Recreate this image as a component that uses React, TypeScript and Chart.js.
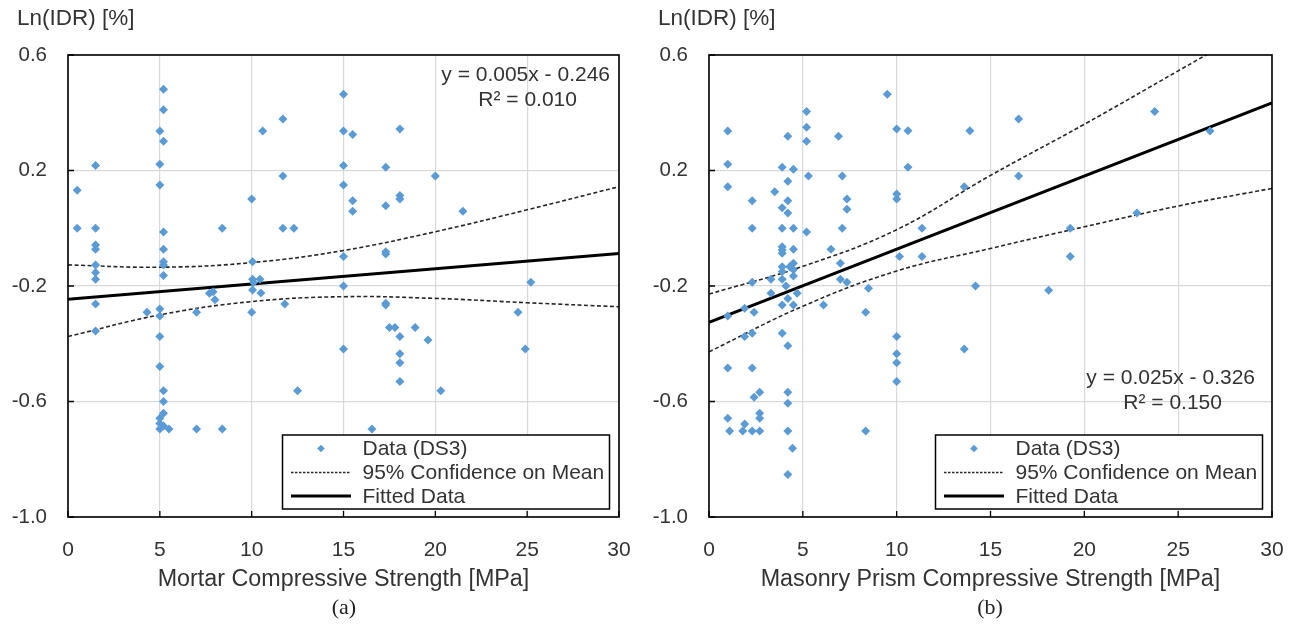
import React, { useEffect, useRef } from "react";
import { Chart, registerables } from "chart.js";

Chart.register(...registerables);

// ---------- Data: (a) Mortar compressive strength ----------
const mortarX = [
  0.5, 0.5,
  1.5, 1.5, 1.5, 1.5, 1.5, 1.5, 1.5, 1.5, 1.5,
  5.2, 5.2, 5.0, 5.2, 5.0, 5.0, 5.2, 5.2, 5.2, 5.2, 5.2,
  5.0, 5.0, 5.0, 5.0, 5.2, 5.2, 5.2, 5.0, 5.0, 5.0, 5.2, 5.5,
  4.3, 7.0, 7.0, 8.4, 8.0, 7.7, 7.9, 8.4,
  10.0, 10.6, 11.7, 11.7, 11.7, 12.3, 10.05, 10.05, 10.45, 10.1, 10.05, 10.5, 10.0, 11.8, 12.5,
  15.0, 15.0, 15.5, 15.0, 15.0, 15.5, 15.5, 15.0, 15.0, 15.0,
  16.55, 18.07, 17.3, 20.0, 17.3, 18.07, 18.07, 21.5, 17.3, 17.3, 25.2,
  17.3, 17.3, 17.5, 17.8, 18.9, 18.07, 19.6, 18.07, 18.07, 18.07, 24.5, 24.9, 20.3,
];
const mortarY = [
  0.132, 0.0,
  0.217, 0.0, -0.058, -0.073, -0.127, -0.153, -0.177, -0.262, -0.356,
  0.481, 0.41, 0.337, 0.301, 0.222, 0.15, -0.013, -0.073, -0.116, -0.127, -0.164,
  -0.28, -0.304, -0.375, -0.479, -0.563, -0.6, -0.641, -0.658, -0.676, -0.695, -0.685, -0.695,
  -0.291, -0.291, -0.695, -0.695, -0.248, -0.225, -0.22, 0.0,
  0.101, 0.337, 0.378, 0.181, 0.0, 0.0, -0.116, -0.177, -0.177, -0.188, -0.214, -0.224, -0.291, -0.262, -0.563,
  0.464, 0.337, 0.325, 0.217, 0.15, 0.095, 0.059, -0.098, -0.2, -0.418,
  -0.695, 0.344, 0.211, 0.181, 0.078, 0.113, 0.101, 0.059, -0.081, -0.089, -0.187,
  -0.26, -0.266, -0.344, -0.344, -0.344, -0.375, -0.387, -0.435, -0.466, -0.531, -0.291, -0.418, -0.563,
];

// ---------- Data: (b) Masonry prism compressive strength ----------
const prismX = [
  1.0, 1.0, 1.0, 9.5, 5.2, 5.2, 5.2, 4.2, 6.9, 10.0, 10.6, 13.9, 10.6, 3.9, 4.5, 5.3, 7.1, 4.2,
  13.6, 3.5, 2.3, 4.2, 7.35, 10.0, 10.0, 3.9, 4.2, 7.35, 2.3, 3.9, 4.5, 7.1, 11.35, 5.2,
  3.9, 3.9, 3.9, 4.5, 6.5, 7.0, 10.15, 11.35, 3.9, 4.5, 4.3, 3.9, 4.5, 4.5, 2.3, 3.3, 3.9,
  4.1, 7.0, 7.35, 8.5, 14.2, 3.3, 4.2, 3.9, 4.5, 4.7, 6.1, 8.35, 1.0, 1.9, 2.4, 1.9, 2.3,
  3.9, 4.2, 1.0, 2.3, 2.4, 2.7, 4.2, 4.2, 10.0, 10.0, 10.0, 10.0, 13.6, 1.0, 1.1, 1.9, 1.8,
  2.3, 2.7, 2.7, 2.7, 4.2, 4.45, 4.2, 8.35, 16.5, 23.75, 26.7, 16.5, 22.8, 19.25, 19.25, 18.1,
];
const prismY = [
  0.337, 0.222, 0.144, 0.464, 0.404, 0.35, 0.301, 0.319, 0.319, 0.344, 0.338, 0.338, 0.211, 0.211, 0.204, 0.181, 0.181, 0.163,
  0.144, 0.126, 0.095, 0.095, 0.101, 0.119, 0.101, 0.071, 0.053, 0.066, 0.0, 0.0, 0.0, 0.0, 0.0, -0.013,
  -0.064, -0.075, -0.087, -0.073, -0.073, -0.121, -0.098, -0.098, -0.133, -0.121, -0.133, -0.15, -0.144, -0.165, -0.187, -0.177, -0.177,
  -0.2, -0.177, -0.187, -0.208, -0.2, -0.225, -0.243, -0.266, -0.266, -0.225, -0.266, -0.291, -0.304, -0.277, -0.291, -0.375, -0.364,
  -0.364, -0.407, -0.484, -0.484, -0.585, -0.568, -0.568, -0.606, -0.375, -0.435, -0.466, -0.531, -0.418, -0.658, -0.702, -0.678, -0.702,
  -0.702, -0.702, -0.641, -0.658, -0.702, -0.762, -0.853, -0.702, 0.378, 0.404, 0.337, 0.181, 0.053, 0.0, -0.098, -0.215,
];

// ---------- Confidence bands and fitted lines ----------
const bandX = [0, 5, 10, 15, 20, 25, 30];
const mortarUpper = [-0.127, -0.135, -0.119, -0.077, -0.012, 0.064, 0.144];
const mortarLower = [-0.375, -0.3, -0.254, -0.237, -0.243, -0.258, -0.272];
const prismUpper = [-0.228, -0.132, -0.005, 0.183, 0.36, 0.545, 0.73];
const prismLower = [-0.428, -0.27, -0.148, -0.07, 0.005, 0.077, 0.138];

const fitX = [0, 30];
const mortarFit = [-0.246, -0.087];
const prismFit = [-0.326, 0.434];

const xTickValues = [0, 5, 10, 15, 20, 25, 30];
const yTickValues = [-1.0, -0.6, -0.2, 0.2, 0.6];

const yTitle = "Ln(IDR) [%]";
const legendLabels = ["Data (DS3)", "95% Confidence on Mean", "Fitted Data"];

const FONT = '"Liberation Sans", Arial, sans-serif';
const TEXT = "#333333";
const BLUE = "#5B9BD5";
const DASH = [4, 2.5];

const toPts = (xs: number[], ys: number[]) => xs.map((x, i) => ({ x, y: ys[i] }));

const decorPlugin = {
  id: "decor",
  afterDraw(chart: any, _args: any, opts: any) {
    const { ctx, chartArea: a, scales } = chart;
    ctx.save();
    // y-axis title (horizontal, above the axis)
    ctx.font = `22.5px ${FONT}`;
    ctx.fillStyle = TEXT;
    ctx.textAlign = "left";
    ctx.textBaseline = "middle";
    ctx.fillText(yTitle, a.left - 51, 19);

    // inner tick marks
    ctx.strokeStyle = "#000";
    ctx.lineWidth = 1.3;
    ctx.beginPath();
    xTickValues.forEach((v) => {
      const p = scales.x.getPixelForValue(v);
      ctx.moveTo(p, a.bottom);
      ctx.lineTo(p, a.bottom - 6);
    });
    yTickValues.forEach((v) => {
      const p = scales.y.getPixelForValue(v);
      ctx.moveTo(a.left, p);
      ctx.lineTo(a.left + 6, p);
    });
    ctx.stroke();
    // frame
    ctx.lineWidth = 1.6;
    ctx.strokeRect(a.left, a.top, a.right - a.left, a.bottom - a.top);

    // equation
    ctx.font = `21px ${FONT}`;
    ctx.fillStyle = TEXT;
    ctx.textBaseline = "middle";
    ctx.textAlign = "right";
    const eqRight = a.right - opts.eqInset;
    const y1 = opts.eqFromBottom ? a.bottom - opts.eqY : a.top + opts.eqY;
    ctx.fillText(opts.eq1, eqRight, y1);
    const w1 = ctx.measureText(opts.eq1).width;
    ctx.textAlign = "center";
    ctx.fillText(opts.eq2, eqRight - w1 / 2 + 2, y1 + 25);

    // legend
    const bw = 327;
    const bh = 74;
    const bx = a.right - 9.5 - bw;
    const by = a.bottom - 8 - bh;
    ctx.fillStyle = "#fff";
    ctx.fillRect(bx, by, bw, bh);
    ctx.strokeStyle = "#000";
    ctx.lineWidth = 1.5;
    ctx.strokeRect(bx, by, bw, bh);
    const rows = [by + 13.5, by + 37.5, by + 61];
    // marker
    ctx.fillStyle = BLUE;
    const mx = bx + 38.5;
    const r = 3.8;
    ctx.beginPath();
    ctx.moveTo(mx, rows[0] - r);
    ctx.lineTo(mx + r, rows[0]);
    ctx.lineTo(mx, rows[0] + r);
    ctx.lineTo(mx - r, rows[0]);
    ctx.closePath();
    ctx.fill();
    // dashed
    ctx.strokeStyle = "#262626";
    ctx.lineWidth = 1.3;
    ctx.setLineDash([2.5, 1.5]);
    ctx.beginPath();
    ctx.moveTo(bx + 8.5, rows[1]);
    ctx.lineTo(bx + 68.5, rows[1]);
    ctx.stroke();
    ctx.setLineDash([]);
    // solid
    ctx.strokeStyle = "#000";
    ctx.lineWidth = 3;
    ctx.beginPath();
    ctx.moveTo(bx + 8.5, rows[2]);
    ctx.lineTo(bx + 68.5, rows[2]);
    ctx.stroke();
    // texts
    ctx.fillStyle = TEXT;
    ctx.font = `21px ${FONT}`;
    ctx.textAlign = "left";
    ctx.textBaseline = "middle";
    legendLabels.forEach((t, i) => ctx.fillText(t, bx + 80, rows[i] + 1));
    ctx.restore();
  },
};

type Panel = {
  xs: number[];
  ys: number[];
  upper: number[];
  lower: number[];
  fit: number[];
  xTitle: string;
  padRight: number;
  eq1: string;
  eq2: string;
  eqInset: number;
  eqY: number;
  eqFromBottom: boolean;
};

const zeroPad = (s: any) => {
  s.paddingLeft = 0;
  s.paddingRight = 0;
  s.paddingTop = 0;
  s.paddingBottom = 0;
};

function buildChart(canvas: HTMLCanvasElement, p: Panel) {
  return new Chart(canvas, {
    type: "scatter",
    data: {
      datasets: [
        {
          type: "scatter",
          label: legendLabels[0],
          data: toPts(p.xs, p.ys),
          backgroundColor: BLUE,
          borderColor: BLUE,
          pointStyle: "rectRot",
          pointRadius: 4.5,
          pointBorderWidth: 0,
        },
        {
          type: "line",
          label: legendLabels[1],
          data: toPts(bandX, p.upper),
          borderColor: "#262626",
          borderWidth: 1.6,
          borderDash: DASH,
          pointRadius: 0,
          fill: false,
          tension: 0.4,
        },
        {
          type: "line",
          label: legendLabels[1] + " (lower)",
          data: toPts(bandX, p.lower),
          borderColor: "#262626",
          borderWidth: 1.6,
          borderDash: DASH,
          pointRadius: 0,
          fill: false,
          tension: 0.4,
        },
        {
          type: "line",
          label: legendLabels[2],
          data: toPts(fitX, p.fit),
          borderColor: "#000",
          borderWidth: 3,
          pointRadius: 0,
          fill: false,
          tension: 0,
        },
      ],
    } as any,
    options: {
      animation: false,
      responsive: false,
      maintainAspectRatio: false,
      layout: { padding: { left: 4, right: p.padRight, top: 55, bottom: 29 } },
      plugins: {
        legend: { display: false },
        tooltip: { enabled: false },
        title: { display: false },
        decor: {
          eq1: p.eq1,
          eq2: p.eq2,
          eqInset: p.eqInset,
          eqY: p.eqY,
          eqFromBottom: p.eqFromBottom,
        },
      } as any,
      scales: {
        x: {
          type: "linear",
          min: 0,
          max: 30,
          ticks: {
            stepSize: 5,
            color: TEXT,
            font: { family: FONT, size: 21 },
            padding: 21,
            maxRotation: 0,
          },
          grid: { color: "#d9d9d9", lineWidth: 1.2, drawTicks: false },
          border: { display: false },
          title: {
            display: true,
            text: p.xTitle,
            color: TEXT,
            font: { family: FONT, size: 23.3 },
            padding: { top: 0, bottom: 3 },
          },
          afterFit: (s: any) => {
            s.height = 80;
            zeroPad(s);
          },
        },
        y: {
          type: "linear",
          min: -1,
          max: 0.6,
          ticks: {
            stepSize: 0.4,
            color: TEXT,
            font: { family: FONT, size: 20.5 },
            padding: 21,
            callback: (v: any) => Number(v).toFixed(1),
          },
          grid: { color: "#d9d9d9", lineWidth: 1.2, drawTicks: false },
          border: { display: false },
          afterFit: (s: any) => {
            s.width = 64;
            zeroPad(s);
          },
        },
      } as any,
    },
    plugins: [decorPlugin],
  });
}

export default function App() {
  const leftRef = useRef<HTMLCanvasElement>(null);
  const rightRef = useRef<HTMLCanvasElement>(null);

  useEffect(() => {
    const c1 = buildChart(leftRef.current!, {
      xs: mortarX,
      ys: mortarY,
      upper: mortarUpper,
      lower: mortarLower,
      fit: mortarFit,
      xTitle: "Mortar Compressive Strength [MPa]",
      padRight: 22,
      eq1: "y = 0.005x - 0.246",
      eq2: "R² = 0.010",
      eqInset: 9,
      eqY: 20,
      eqFromBottom: false,
    });
    const c2 = buildChart(rightRef.current!, {
      xs: prismX,
      ys: prismY,
      upper: prismUpper,
      lower: prismLower,
      fit: prismFit,
      xTitle: "Masonry Prism Compressive Strength [MPa]",
      padRight: 24,
      eq1: "y = 0.025x - 0.326",
      eq2: "R² = 0.150",
      eqInset: 17,
      eqY: 139,
      eqFromBottom: true,
    });
    return () => {
      c1.destroy();
      c2.destroy();
    };
  }, []);

  const caption: React.CSSProperties = {
    position: "absolute",
    top: 593,
    height: 28,
    lineHeight: "28px",
    width: 80,
    textAlign: "center",
    fontFamily: '"Liberation Serif", "Times New Roman", serif',
    fontSize: 22,
    color: "#222",
  };

  return (
    <div
      style={{
        position: "absolute",
        left: 0,
        top: 0,
        width: 1296,
        height: 626,
        background: "#fff",
        overflow: "hidden",
      }}
    >
      <canvas
        ref={leftRef}
        width={641}
        height={626}
        style={{ position: "absolute", left: 0, top: 0, width: 641, height: 626 }}
      />
      <canvas
        ref={rightRef}
        width={655}
        height={626}
        style={{ position: "absolute", left: 641, top: 0, width: 655, height: 626 }}
      />
      <div style={{ ...caption, left: 344 - 40 }}>(a)</div>
      <div style={{ ...caption, left: 990 - 40 }}>(b)</div>
    </div>
  );
}
